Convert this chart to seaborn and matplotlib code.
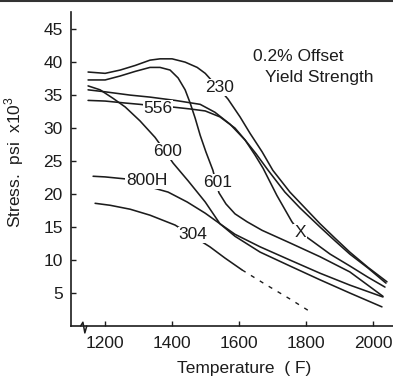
import numpy as np
import pandas as pd
import matplotlib
matplotlib.use('Agg')
import matplotlib.pyplot as plt
from matplotlib.lines import Line2D
import seaborn as sns

# values: temperature (F), 0.2% yield stress (ksi)
t_230 = [1149, 1200, 1245, 1290, 1334, 1364, 1400, 1439, 1475, 1499, 1531, 1567, 1603, 1633,
         1669, 1701, 1752, 1797, 1842, 1887, 1931, 1985, 2042]
s_230 = [38.5, 38.3, 38.8, 39.5, 40.3, 40.5, 40.5, 40.0, 39.2, 38.3, 36.5, 34.4, 31.7, 29.2,
         26.4, 23.6, 20.3, 17.9, 15.5, 13.3, 11.2, 8.9, 6.7]

t_x = [1149, 1200, 1275, 1334, 1409, 1484, 1528, 1573, 1618, 1648, 1672, 1713, 1758, 1782,
       1818, 1872, 1931, 1985, 2036]
s_x = [35.8, 35.5, 35.0, 34.7, 34.2, 33.6, 32.4, 30.6, 28.2, 25.9, 23.9, 19.8, 15.8, 14.2,
       12.9, 10.9, 9.1, 7.4, 5.9]

t_556 = [1149, 1200, 1260, 1304, 1358, 1400, 1454, 1499, 1543, 1588, 1618, 1651, 1687, 1737,
         1782, 1842, 1887, 1931, 1985, 2039]
s_556 = [34.2, 34.1, 33.8, 33.6, 33.3, 33.2, 32.9, 32.6, 31.7, 30.0, 28.2, 26.1, 23.6, 20.3,
         17.9, 15.0, 12.9, 10.9, 8.8, 6.5]

t_601 = [1149, 1200, 1245, 1290, 1334, 1364, 1394, 1418, 1439, 1454, 1469, 1484, 1501, 1522,
         1531, 1540, 1561, 1588, 1624, 1669, 1752, 1842, 1931, 2030]
s_601 = [37.3, 37.3, 37.9, 38.6, 39.2, 39.2, 38.8, 37.6, 35.8, 33.8, 31.5, 28.9, 26.4, 23.6,
         21.8, 20.2, 18.5, 17.0, 15.8, 14.5, 12.6, 10.5, 8.2, 4.5]

t_600 = [1149, 1185, 1224, 1260, 1304, 1349, 1376, 1403, 1448, 1499, 1543, 1588, 1663, 1752,
         1842, 1931, 2027]
s_600 = [36.4, 35.8, 34.5, 33.2, 31.1, 28.6, 26.7, 24.7, 22.0, 18.8, 15.5, 13.6, 11.2, 9.1,
         7.0, 5.0, 2.9]

t_800h = [1164, 1200, 1260, 1325, 1388, 1445, 1499, 1543, 1588, 1663, 1752, 1842, 1931, 2030]
s_800h = [22.7, 22.6, 22.3, 21.2, 20.3, 18.8, 17.1, 15.5, 13.9, 12.0, 10.0, 8.0, 6.2, 4.4]

t_304 = [1170, 1215, 1275, 1334, 1409, 1463, 1513, 1558, 1609]
s_304 = [18.6, 18.3, 17.7, 16.8, 15.3, 13.6, 12.0, 10.3, 8.5]
t_304_est = [1609, 1676, 1752, 1818]
s_304_est = [8.5, 6.4, 4.1, 2.0]

label_text = ['230', '556', '600', '601', '800H', '304', 'X']
label_temp = [1543, 1358, 1385, 1537, 1325, 1463, 1782]
label_stress = [36.1, 33.0, 26.4, 21.7, 22.0, 13.8, 14.2]

ink = '#1c1c1c'

rows = []
for name, t, s in [('230', t_230, s_230), ('X', t_x, s_x), ('556', t_556, s_556),
                   ('601', t_601, s_601), ('600', t_600, s_600), ('800H', t_800h, s_800h),
                   ('304', t_304, s_304)]:
    for a, b in zip(t, s):
        rows.append({'alloy': name, 'temp': a, 'stress': b})
df = pd.DataFrame(rows)
df_est = pd.DataFrame({'alloy': '304', 'temp': t_304_est, 'stress': s_304_est})

sns.set_style('ticks')
plt.rcParams['font.family'] = ['Liberation Sans', 'DejaVu Sans']
plt.rcParams['mathtext.fontset'] = 'custom'
plt.rcParams['mathtext.rm'] = 'Liberation Sans'

fig = plt.figure(figsize=(3.93, 3.77), dpi=100)
ax = fig.add_axes([71 / 393, 51 / 377, 322 / 393, 314 / 377])

sns.lineplot(data=df, x='temp', y='stress', units='alloy', estimator=None, sort=False,
             color=ink, lw=1.15, ax=ax, zorder=2)
sns.lineplot(data=df_est, x='temp', y='stress', estimator=None, sort=False,
             color=ink, lw=1.0, dashes=False, ax=ax, zorder=2)
ax.lines[-1].set_linestyle((0, (3, 4.5)))

for txt, a, b in zip(label_text, label_temp, label_stress):
    ax.text(a, b, txt, ha='center', va='center', fontsize=12.5, color=ink, zorder=3,
            bbox=dict(facecolor='white', edgecolor='none', pad=0.6))

ax.text(1642, 40.8, '0.2% Offset', ha='left', va='center', fontsize=12.5, color=ink)
ax.text(1678, 37.7, 'Yield Strength', ha='left', va='center', fontsize=12.5, color=ink)

ax.set_xlim(1098, 2060)
ax.set_ylim(0, 47.6)
ax.set_xticks([1200, 1400, 1600, 1800, 2000])
ax.set_yticks([5, 10, 15, 20, 25, 30, 35, 40, 45])
ax.tick_params(direction='in', length=3.5, width=1, colors=ink, labelsize=12.5)
ax.tick_params(axis='y', pad=6)
ax.tick_params(axis='x', pad=7)
sns.despine(ax=ax)
for side in ['left', 'bottom']:
    ax.spines[side].set_linewidth(1.2)
    ax.spines[side].set_color(ink)

ax.set_xlabel('Temperature  ( F)', fontsize=12.5, color=ink)
ax.set_ylabel('Stress.  psi  x10$^3$', fontsize=12.5, color=ink)
ax.xaxis.set_label_coords(0.537, -0.112)
ax.yaxis.set_label_coords(-0.14, 0.522)

# axis break mark near the origin
ax.plot([0.030, 0.037, 0.043, 0.049], [0.0, 0.012, -0.022, 0.0], transform=ax.transAxes,
        color=ink, lw=1.1, clip_on=False)

# dark scan edge along the top
fig.add_artist(Line2D([0, 1], [0.998, 0.998], transform=fig.transFigure, color='#333333', lw=1.5))

fig.savefig('out.png', dpi=100)
